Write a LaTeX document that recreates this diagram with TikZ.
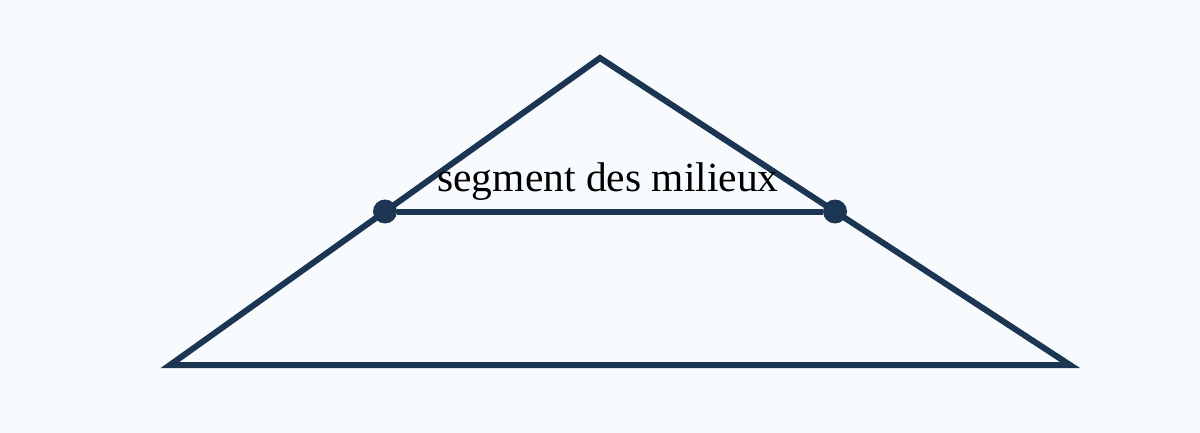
\documentclass[tikz,border=0pt]{standalone}
\usepackage{fontspec}
\setmainfont{Liberation Serif}
\usetikzlibrary{calc}
\definecolor{navy}{HTML}{1C3552}
\definecolor{paper}{HTML}{F8FBFD}

\begin{document}
\begin{tikzpicture}[x=1pt, y=-1pt,
    edge/.style={draw=navy, line width=6pt, line join=miter},
    midpoint/.style={circle, fill=navy, inner sep=0, minimum size=24pt}]
        \fill [paper] (0, 0) rectangle (1200, 433);
        \useasboundingbox (0, 0) rectangle (1200, 433);

        \coordinate (A) at (600, 58);
        \coordinate (B) at (170, 365);
        \coordinate (C) at (1070, 365);

        \draw [edge] (A) -- (B) -- (C) -- cycle;

        \node [midpoint] (M) at ($(A)!0.5!(B)$) {};
        \node [midpoint] (N) at ($(A)!0.5!(C)$) {};
        \draw [edge] (M) -- (N);

        \node [font=\fontsize{41.5}{46}\selectfont, anchor=base] (label) at (608, 192) {segment des milieux};
      \end{tikzpicture}
\end{document}
